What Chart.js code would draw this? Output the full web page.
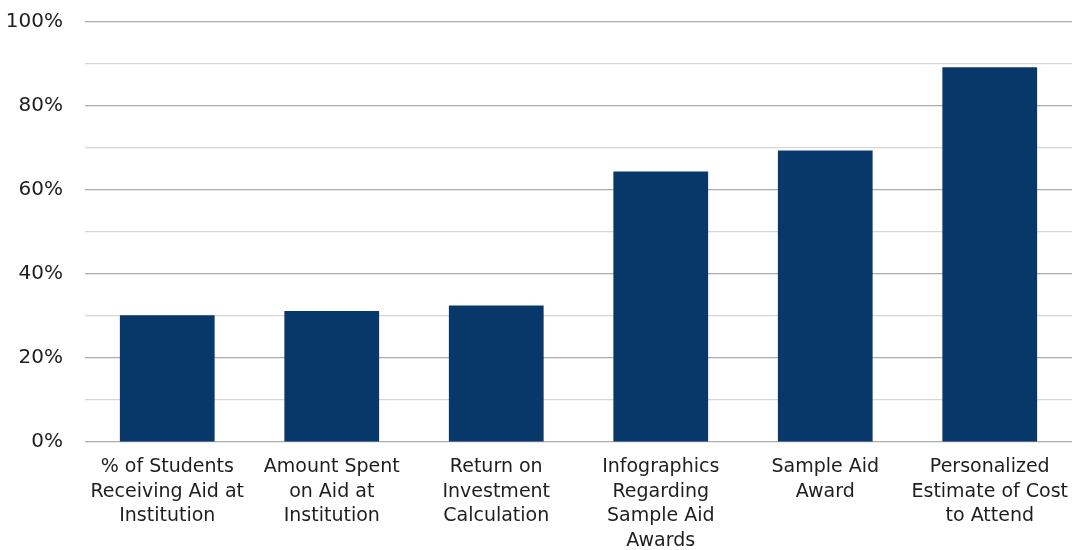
<!DOCTYPE html>
<html>
<head>
<meta charset="utf-8">
<script src="https://cdn.jsdelivr.net/npm/chart.js@4/dist/chart.umd.min.js"></script>
<style>
  html, body { margin: 0; padding: 0; background: #ffffff; }
  #wrap { width: 1072px; height: 550px; position: relative; }
</style>
</head>
<body>
<div id="wrap"><canvas id="c"></canvas></div>
<script>
const categories = [
  ["% of Students", "Receiving Aid at", "Institution"],
  ["Amount Spent", "on Aid at", "Institution"],
  ["Return on", "Investment", "Calculation"],
  ["Infographics", "Regarding", "Sample Aid", "Awards"],
  ["Sample Aid", "Award"],
  ["Personalized", "Estimate of Cost", "to Attend"]
];
const values = [30.2, 31.2, 32.5, 64.4, 69.4, 89.2];
const yMin = 0;
const yMax = 100;
const yStep = 10;
const yLabelStep = 20;

const fontFamily = "'DejaVu Sans', sans-serif";

new Chart(document.getElementById('c'), {
  type: 'bar',
  data: {
    labels: categories,
    datasets: [{
      data: values,
      backgroundColor: '#08376a',
      borderWidth: 0,
      barPercentage: 0.72,
      categoryPercentage: 0.8
    }]
  },
  options: {
    responsive: true,
    maintainAspectRatio: false,
    animation: false,
    layout: { padding: { top: 22, right: 0, bottom: 0, left: 0 } },
    plugins: { legend: { display: false }, tooltip: { enabled: false } },
    scales: {
      x: {
        grid: { display: false, drawTicks: false },
        border: { display: false },
        ticks: {
          color: '#1e1e1e',
          font: { family: fontFamily, size: 19, lineHeight: 1.29 },
          padding: 13,
          maxRotation: 0,
          autoSkip: false
        },
        afterFit: (s) => { s.height = 108; s.paddingLeft = 0; s.paddingRight = 0; }
      },
      y: {
        min: yMin,
        max: yMax,
        grid: {
          drawTicks: false,
          lineWidth: 1.2,
          color: (ctx) => (ctx.tick && ctx.tick.value % yLabelStep === 0) ? '#ababab' : '#d6d6d6'
        },
        border: { display: false },
        ticks: {
          stepSize: yStep,
          color: '#1e1e1e',
          font: { family: fontFamily, size: 20 },
          padding: 22,
          callback: (v) => (v % yLabelStep === 0) ? v + '%' : ''
        },
        afterFit: (s) => { s.width = 85; s.paddingTop = 0; s.paddingBottom = 0; }
      }
    }
  }
});
</script>
</body>
</html>
